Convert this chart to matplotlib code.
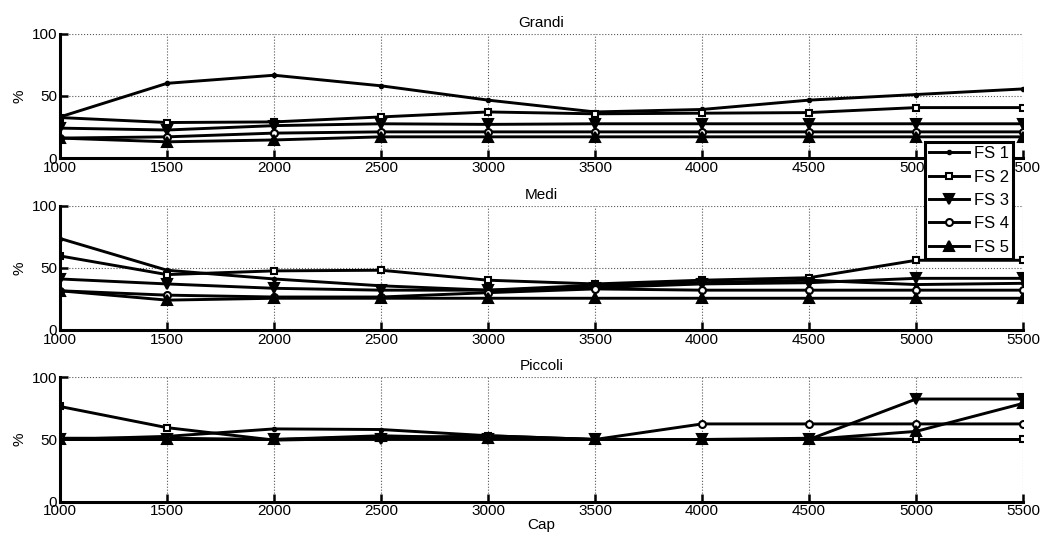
import matplotlib
matplotlib.use("Agg")
import matplotlib.pyplot as plt

plt.rcParams['font.family'] = ['Liberation Sans', 'DejaVu Sans']

cap = [1000, 1500, 2000, 2500, 3000, 3500, 4000, 4500, 5000, 5500]
series_names = ["FS 1", "FS 2", "FS 3", "FS 4", "FS 5"]
panel_titles = ["Grandi", "Medi", "Piccoli"]

grandi = [
    [33, 60, 66.5, 58, 46.5, 37, 39, 46.5, 51, 55.5],
    [32.5, 28.5, 29, 33, 37, 35.5, 36, 36.5, 40.5, 40.5],
    [24, 22.5, 26, 27.5, 27, 27.5, 27.5, 27.5, 27.5, 27.5],
    [16, 17, 20, 21, 21, 21, 21, 21, 21, 21],
    [16, 13, 14.5, 17, 17, 17, 17, 17, 17, 17],
]
medi = [
    [73.5, 48, 41, 35.5, 32, 36, 38, 40, 36.5, 37.5],
    [59.5, 44.5, 47.5, 48, 40, 37, 40, 42, 56, 56],
    [41, 37, 33.5, 32, 32, 34, 37, 38, 41.5, 41.5],
    [31.5, 28, 26.5, 26.5, 30, 33, 32, 32, 32, 32],
    [31.5, 24, 25.5, 25.5, 25.5, 25.5, 25.5, 25.5, 25.5, 25.5],
]
piccoli = [
    [50, 52.5, 58.5, 58, 53, 50, 50, 51, 50, 50],
    [76.5, 59.5, 49.5, 51, 53, 50, 50, 50, 50, 50],
    [50, 50, 50, 50, 50, 50, 50, 50, 82.5, 82.5],
    [51, 51, 50, 52, 52, 50, 62.5, 62.5, 62.5, 62.5],
    [50, 50, 50, 53, 51, 50, 50, 50, 56.5, 79],
]
panels = [grandi, medi, piccoli]

styles = [
    dict(marker='.', markersize=5, markerfacecolor='k'),
    dict(marker='s', markersize=5, markerfacecolor='white'),
    dict(marker='v', markersize=6.5, markerfacecolor='k'),
    dict(marker='o', markersize=5, markerfacecolor='white'),
    dict(marker='^', markersize=6.5, markerfacecolor='k'),
]

fig = plt.figure(figsize=(10.46, 5.4), dpi=100)
left, width = 0.0574, 0.9207
bottoms = [0.7074, 0.3889, 0.0709]
height = 0.2305
fs = 11

handles = []
for i, (data, title) in enumerate(zip(panels, panel_titles)):
    ax = fig.add_axes([left, bottoms[i], width, height])
    for k, vals in enumerate(data):
        ln, = ax.plot(cap, vals, color='k', linewidth=2.1,
                      markeredgecolor='k', markeredgewidth=1.5,
                      label=series_names[k], **styles[k])
        if i == 0:
            handles.append(ln)
    ax.set_xlim(1000, 5500)
    ax.set_ylim(0, 100)
    ax.set_xticks(cap)
    ax.set_yticks([0, 50, 100])
    ax.grid(True, linestyle=':', linewidth=0.8, color='#555555')
    ax.spines['top'].set_visible(False)
    ax.spines['right'].set_visible(False)
    ax.spines['left'].set_linewidth(2.2)
    ax.spines['bottom'].set_linewidth(2.2)
    ax.tick_params(direction='in', length=6, width=1.8, labelsize=fs, pad=2)
    ax.set_title(title, fontsize=fs, pad=5)
    ax.set_ylabel('%', fontsize=fs, labelpad=4)
    if i == 2:
        ax.set_xlabel('Cap', fontsize=fs, labelpad=0)

leg = fig.legend(handles=handles, loc='upper left', bbox_to_anchor=(0.884, 0.737),
                 fontsize=12, handlelength=2.4, labelspacing=0.5,
                 borderpad=0.25, handletextpad=0.3, borderaxespad=0,
                 fancybox=False, framealpha=1, edgecolor='k')
leg.get_frame().set_linewidth(2.2)

fig.savefig("out.png", dpi=100)
